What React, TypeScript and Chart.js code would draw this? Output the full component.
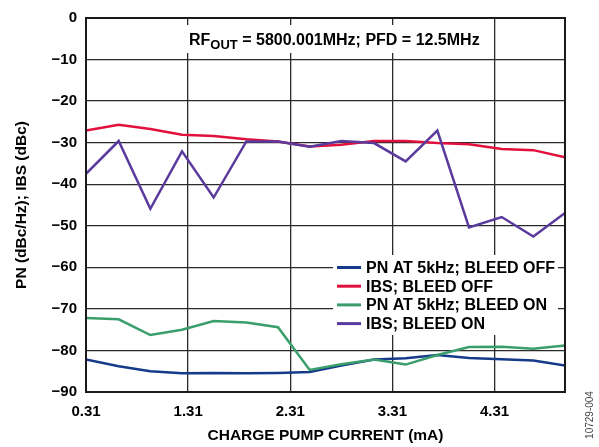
import { useEffect, useRef } from "react";
import { Chart, registerables } from "chart.js";

Chart.register(...registerables);

// Charge pump current (mA)
const currents = [0.31, 0.63, 0.94, 1.25, 1.56, 1.88, 2.19, 2.5, 2.81, 3.13, 3.44, 3.75, 4.06, 4.38, 4.69, 5.0];
// PN at 5 kHz, bleed off (dBc/Hz)
const pnBleedOff = [-82.2, -83.8, -85.0, -85.5, -85.4, -85.5, -85.4, -85.2, -83.6, -82.2, -81.9, -81.1, -81.8, -82.1, -82.4, -83.6];
// IBS, bleed off (dBc)
const ibsBleedOff = [-27.1, -25.7, -26.7, -28.1, -28.4, -29.2, -29.7, -30.9, -30.5, -29.6, -29.6, -30.1, -30.4, -31.5, -31.8, -33.5];
// PN at 5 kHz, bleed on (dBc/Hz)
const pnBleedOn = [-72.2, -72.5, -76.3, -75.0, -72.9, -73.3, -74.4, -84.7, -83.3, -82.2, -83.4, -81.1, -79.2, -79.1, -79.6, -78.8];
// IBS, bleed on (dBc)
const ibsBleedOn = [-37.5, -29.6, -45.9, -32.1, -43.2, -29.7, -29.7, -31.0, -29.6, -30.1, -34.5, -27.1, -50.4, -47.9, -52.6, -46.9];

const xTickValues = [0.31, 1.31, 2.31, 3.31, 4.31];
const seriesLabels = ["PN AT 5kHz; BLEED OFF", "IBS; BLEED OFF", "PN AT 5kHz; BLEED ON", "IBS; BLEED ON"];
const seriesColors = ["#163a8a", "#e2103c", "#3a9e6c", "#5a3a9c"];
const xTitle = "CHARGE PUMP CURRENT (mA)";
const yTitle = "PN (dBc/Hz); IBS (dBc)";
const figureCode = "10729-004";

const FONT = "'Liberation Sans', Arial, Helvetica, sans-serif";

const overlayPlugin = {
  id: "overlay",
  afterDatasetsDraw(chart: any) {
    const ctx = chart.ctx as CanvasRenderingContext2D;
    const a = chart.chartArea;
    ctx.save();

    // ---- Condition title with subscript ----
    const mainFont = `bold 16px ${FONT}`;
    const subFont = `bold 13px ${FONT}`;
    const partA = "RF";
    const partSub = "OUT";
    const partB = " = 5800.001MHz; PFD = 12.5MHz";
    ctx.font = mainFont;
    const wA = ctx.measureText(partA).width;
    const wB = ctx.measureText(partB).width;
    ctx.font = subFont;
    const wS = ctx.measureText(partSub).width;
    const tx = a.left + 103;
    const ty = a.top + 26.5;
    ctx.fillStyle = "#ffffff";
    ctx.fillRect(tx - 6, a.top + 7, wA + wS + wB + 14, 28);
    ctx.fillStyle = "#000000";
    ctx.textBaseline = "alphabetic";
    ctx.textAlign = "left";
    ctx.font = mainFont;
    ctx.fillText(partA, tx, ty);
    ctx.font = subFont;
    ctx.fillText(partSub, tx + wA, ty + 4);
    ctx.font = mainFont;
    ctx.fillText(partB, tx + wA + wS, ty);

    // ---- Legend ----
    const lx = a.left + 247;
    const ly = a.top + 237;
    ctx.fillStyle = "#ffffff";
    ctx.fillRect(lx, ly, 225, 80);
    ctx.font = `bold 16px ${FONT}`;
    ctx.textBaseline = "middle";
    chart.data.datasets.forEach((ds: any, i: number) => {
      const cy = ly + 12.5 + i * 18.7;
      ctx.strokeStyle = ds.borderColor;
      ctx.lineWidth = 3;
      ctx.beginPath();
      ctx.moveTo(lx + 4, cy);
      ctx.lineTo(lx + 28, cy);
      ctx.stroke();
      ctx.fillStyle = "#000000";
      ctx.fillText(ds.label, lx + 33, cy + 1);
    });

    // ---- Frame ----
    ctx.strokeStyle = "#1a1a1a";
    ctx.lineWidth = 2;
    ctx.strokeRect(a.left, a.top, a.right - a.left, a.bottom - a.top);

    // ---- Figure code ----
    ctx.translate(chart.width - 9, a.bottom + 23);
    ctx.rotate(-Math.PI / 2);
    ctx.font = `10px ${FONT}`;
    ctx.fillStyle = "#444444";
    ctx.textAlign = "center";
    ctx.textBaseline = "middle";
    ctx.fillText(figureCode, 0, 0);

    ctx.restore();
  },
};

function makeSeries(values: number[]) {
  return values.map((v, i) => ({ x: currents[i], y: v }));
}

export default function App() {
  const canvasRef = useRef<HTMLCanvasElement | null>(null);

  useEffect(() => {
    if (!canvasRef.current) return;
    const seriesValues = [pnBleedOff, ibsBleedOff, pnBleedOn, ibsBleedOn];
    const drawOrder = [3, 2, 1, 0];
    const chart = new Chart(canvasRef.current, {
      type: "line",
      data: {
        datasets: seriesValues.map((vals, i) => ({
          label: seriesLabels[i],
          data: makeSeries(vals),
          borderColor: seriesColors[i],
          backgroundColor: seriesColors[i],
          borderWidth: 2.5,
          pointRadius: 0,
          tension: 0,
          fill: false,
          order: drawOrder[i],
        })),
      },
      options: {
        animation: false,
        responsive: false,
        maintainAspectRatio: false,
        layout: { padding: { left: 0, right: 34, top: 8, bottom: 0 } },
        plugins: {
          legend: { display: false },
          tooltip: { enabled: false },
          title: { display: false },
        },
        scales: {
          x: {
            type: "linear",
            min: 0.31,
            max: 5.0,
            afterBuildTicks: (s: any) => {
              s.ticks = xTickValues.map((v) => ({ value: v }));
            },
            afterFit: (s: any) => {
              s.height = 55;
            },
            grid: { color: "#2a2a2a", lineWidth: 1.3, drawTicks: false },
            border: { display: false },
            ticks: {
              padding: 11,
              color: "#000000",
              font: { family: FONT, size: 15, weight: "bold" },
              maxRotation: 0,
              autoSkip: false,
              callback: (v: any) => Number(v).toFixed(2),
            },
            title: {
              display: true,
              text: xTitle,
              color: "#000000",
              font: { family: FONT, size: 15.5, weight: "bold" },
              padding: { top: 0, bottom: 2 },
            },
          },
          y: {
            type: "linear",
            min: -90,
            max: 0,
            afterFit: (s: any) => {
              s.width = 86;
            },
            grid: { color: "#2a2a2a", lineWidth: 1.3, drawTicks: false },
            border: { display: false },
            ticks: {
              stepSize: 10,
              padding: 9,
              color: "#000000",
              font: { family: FONT, size: 15, weight: "bold" },
              callback: (v: any) => (Number(v) === 0 ? "0" : "\u2212" + Math.abs(Number(v))),
            },
            title: {
              display: true,
              text: yTitle,
              color: "#000000",
              font: { family: FONT, size: 15.5, weight: "bold" },
              padding: { top: 12, bottom: 0 },
            },
          },
        },
      },
      plugins: [overlayPlugin],
    });
    return () => chart.destroy();
  }, []);

  return (
    <div style={{ position: "fixed", left: 0, top: 0, width: 599, height: 447, background: "#ffffff" }}>
      <canvas ref={canvasRef} width={599} height={447} style={{ width: 599, height: 447, display: "block" }} />
    </div>
  );
}
